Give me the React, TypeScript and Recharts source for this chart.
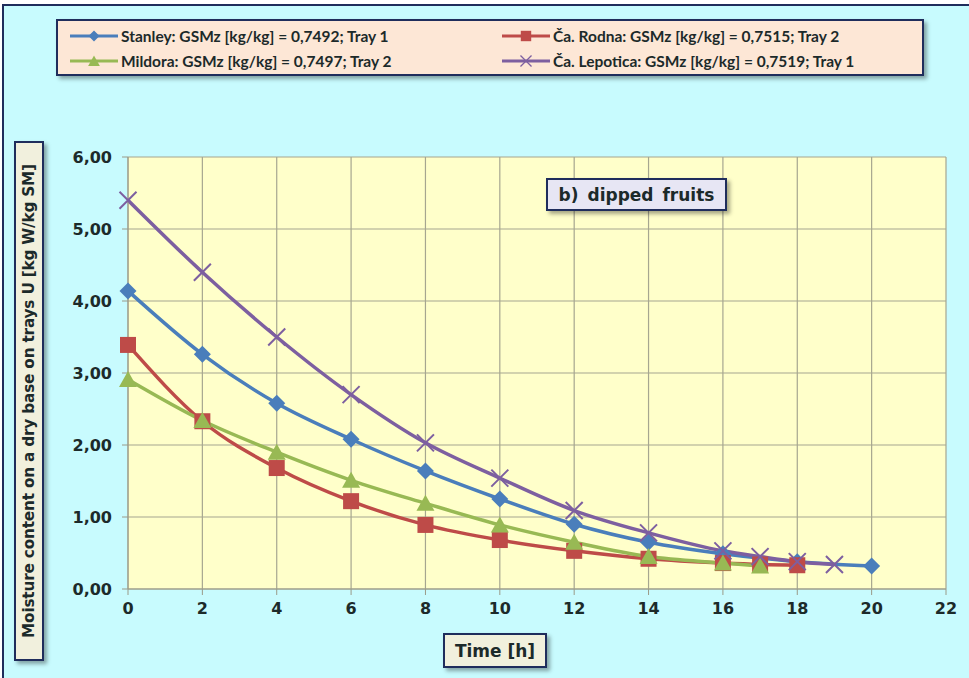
/* Drying curves — moisture content vs time, dipped fruits */
import { LineChart, Line, XAxis, YAxis, CartesianGrid, Legend } from 'recharts';

const W = 969;
const H = 678;

const xTicks = [0, 2, 4, 6, 8, 10, 12, 14, 16, 18, 20, 22];
const yTicks = [0, 1, 2, 3, 4, 5, 6];

const stanleyT = [0, 2, 4, 6, 8, 10, 12, 14, 16, 18, 20];
const stanleyU = [4.14, 3.26, 2.58, 2.08, 1.64, 1.25, 0.9, 0.65, 0.49, 0.38, 0.32];

const rodnaT = [0, 2, 4, 6, 8, 10, 12, 14, 16, 17, 18];
const rodnaU = [3.39, 2.33, 1.68, 1.22, 0.89, 0.68, 0.53, 0.42, 0.36, 0.34, 0.33];

const mildoraT = [0, 2, 4, 6, 8, 10, 12, 14, 16, 17];
const mildoraU = [2.91, 2.34, 1.9, 1.51, 1.19, 0.89, 0.65, 0.45, 0.36, 0.32];

const lepoticaT = [0, 2, 4, 6, 8, 10, 12, 14, 16, 17, 18, 19];
const lepoticaU = [5.4, 4.4, 3.5, 2.7, 2.03, 1.54, 1.09, 0.78, 0.53, 0.45, 0.38, 0.34];

const toRows = (t: number[], u: number[]) => t.map((x, i) => ({ t: x, u: u[i] }));

const COL = {
  blue: '#4a7ebb',
  red: '#be4b48',
  green: '#98b954',
  purple: '#7d5fa0',
  navy: '#1f2d5c',
  text: '#1c2a2a',
};

const Diamond = (p: any) => {
  const { cx, cy } = p;
  if (cx == null || cy == null) return null;
  const s = 8.5;
  return <path key={p.key} d={`M${cx},${cy - s}L${cx + s},${cy}L${cx},${cy + s}L${cx - s},${cy}Z`} fill={COL.blue} />;
};
const Square = (p: any) => {
  const { cx, cy } = p;
  if (cx == null || cy == null) return null;
  return <rect key={p.key} x={cx - 8} y={cy - 8} width={16} height={16} fill={COL.red} />;
};
const Triangle = (p: any) => {
  const { cx, cy } = p;
  if (cx == null || cy == null) return null;
  return <path key={p.key} d={`M${cx},${cy - 8.5}L${cx + 9},${cy + 7.5}L${cx - 9},${cy + 7.5}Z`} fill={COL.green} />;
};
const Cross = (p: any) => {
  const { cx, cy } = p;
  if (cx == null || cy == null) return null;
  const s = 8.5;
  return (
    <path key={p.key} d={`M${cx - s},${cy - s}L${cx + s},${cy + s}M${cx - s},${cy + s}L${cx + s},${cy - s}`}
      stroke={COL.purple} strokeWidth={2} fill="none" />
  );
};

const series = [
  { name: 'Stanley: GSMz [kg/kg] = 0,7492; Tray 1', data: toRows(stanleyT, stanleyU), color: COL.blue, dot: Diamond },
  { name: 'Ča. Rodna: GSMz [kg/kg] = 0,7515; Tray 2', data: toRows(rodnaT, rodnaU), color: COL.red, dot: Square },
  { name: 'Mildora: GSMz [kg/kg] = 0,7497; Tray 2', data: toRows(mildoraT, mildoraU), color: COL.green, dot: Triangle },
  { name: 'Ča. Lepotica: GSMz [kg/kg] = 0,7519; Tray 1', data: toRows(lepoticaT, lepoticaU), color: COL.purple, dot: Cross },
];

function LegendIcon({ idx }: { idx: number }) {
  const s = series[idx];
  const Dot = s.dot;
  return (
    <svg width={48} height={16} style={{ verticalAlign: 'middle', marginRight: 3 }}>
      <line x1={0} y1={8} x2={48} y2={8} stroke={s.color} strokeWidth={3} />
      <g transform="translate(24,8) scale(0.65) translate(-24,-8)">
        <Dot cx={24} cy={8} />
      </g>
    </svg>
  );
}

function LegendBox() {
  const item = (i: number) => (
    <div style={{ display: 'flex', alignItems: 'center', height: 24 }}>
      <LegendIcon idx={i} />
      <span>{series[i].name}</span>
    </div>
  );
  return (
    <div style={{
      position: 'absolute', left: 56, top: 19, width: 868, height: 57, boxSizing: 'border-box',
      background: '#fde7d6', border: `2px solid ${COL.navy}`, boxShadow: '3px 3px 4px rgba(0,0,0,0.35)',
      fontFamily: 'Lato, "Open Sans", sans-serif', fontWeight: 700, fontSize: 15.5, color: COL.text,
      display: 'grid', gridTemplateColumns: '432px 420px', padding: '3px 0 0 12px',
    }}>
      {item(0)}{item(1)}{item(2)}{item(3)}
    </div>
  );
}

const fmt = (v: number) => v.toFixed(2).replace('.', ',');

export default function App() {
  const boxFont = '"DejaVu Sans", Verdana, sans-serif';
  return (
    <div style={{ position: 'fixed', left: 0, top: 0, width: W, height: H, background: '#ffffff', overflow: 'hidden' }}>
      <div style={{
        position: 'absolute', left: 2, top: 4, width: W + 10, height: H + 10,
        background: '#c8fbfe', borderLeft: `2px solid ${COL.navy}`, borderTop: `2px solid ${COL.navy}`,
      }} />
      <div style={{ position: 'absolute', left: 0, top: 0 }}>
        <LineChart width={W} height={H} margin={{ top: 157, right: 23, bottom: 59, left: 46 }}>
          <CartesianGrid stroke="#a6a690" strokeWidth={1.2} fill="#ffffca" fillOpacity={1} />
          <XAxis type="number" dataKey="t" domain={[0, 22]} ticks={xTicks} interval={0}
            allowDuplicatedCategory={false} height={30}
            stroke="#9a9a88" tickSize={6} tickMargin={8}
            tick={{ fontSize: 16, fontWeight: 700, fill: COL.text, fontFamily: boxFont }} />
          <YAxis type="number" domain={[0, 6]} ticks={yTicks} interval={0} width={82}
            stroke="#9a9a88" tickSize={6} tickMargin={10} tickFormatter={fmt}
            tick={{ fontSize: 16, fontWeight: 700, fill: COL.text, fontFamily: boxFont }} />
          <Legend content={() => null} />
          {series.map((s) => (
            <Line key={s.name} data={s.data} dataKey="u" name={s.name} type="monotone"
              stroke={s.color} strokeWidth={3.5} dot={s.dot} activeDot={false}
              isAnimationActive={false} />
          ))}
        </LineChart>
      </div>
      <LegendBox />
      {/* y axis title */}
      <div style={{
        position: 'absolute', left: 14, top: 141, width: 30, height: 520, boxSizing: 'border-box',
        background: '#f1f0dd', border: `2px solid ${COL.navy}`, boxShadow: '3px 3px 4px rgba(0,0,0,0.35)',
      }}>
        <div style={{
          position: 'absolute', left: '50%', top: '50%', transform: 'translate(-50%,-50%) rotate(-90deg)',
          whiteSpace: 'nowrap', fontFamily: boxFont, fontWeight: 700, fontSize: 15.3, color: COL.text,
          letterSpacing: -0.2,
        }}>
          Moisture content on a dry base on trays U [kg W/kg SM]
        </div>
      </div>
      {/* x axis title */}
      <div style={{
        position: 'absolute', left: 443, top: 633, width: 104, height: 35, boxSizing: 'border-box',
        background: '#f1f0dd', border: `2px solid ${COL.navy}`, boxShadow: '3px 3px 4px rgba(0,0,0,0.35)',
        fontFamily: boxFont, fontWeight: 700, fontSize: 17, color: COL.text,
        display: 'flex', alignItems: 'center', justifyContent: 'center',
      }}>
        Time [h]
      </div>
      {/* annotation */}
      <div style={{
        position: 'absolute', left: 546, top: 178, width: 181, height: 33, boxSizing: 'border-box',
        background: '#e7e6f4', border: `2px solid ${COL.navy}`, boxShadow: '3px 3px 4px rgba(0,0,0,0.35)',
        fontFamily: boxFont, fontWeight: 700, fontSize: 17, color: COL.text,
        display: 'flex', alignItems: 'center', justifyContent: 'center', wordSpacing: 3,
      }}>
        b) dipped fruits
      </div>
    </div>
  );
}
